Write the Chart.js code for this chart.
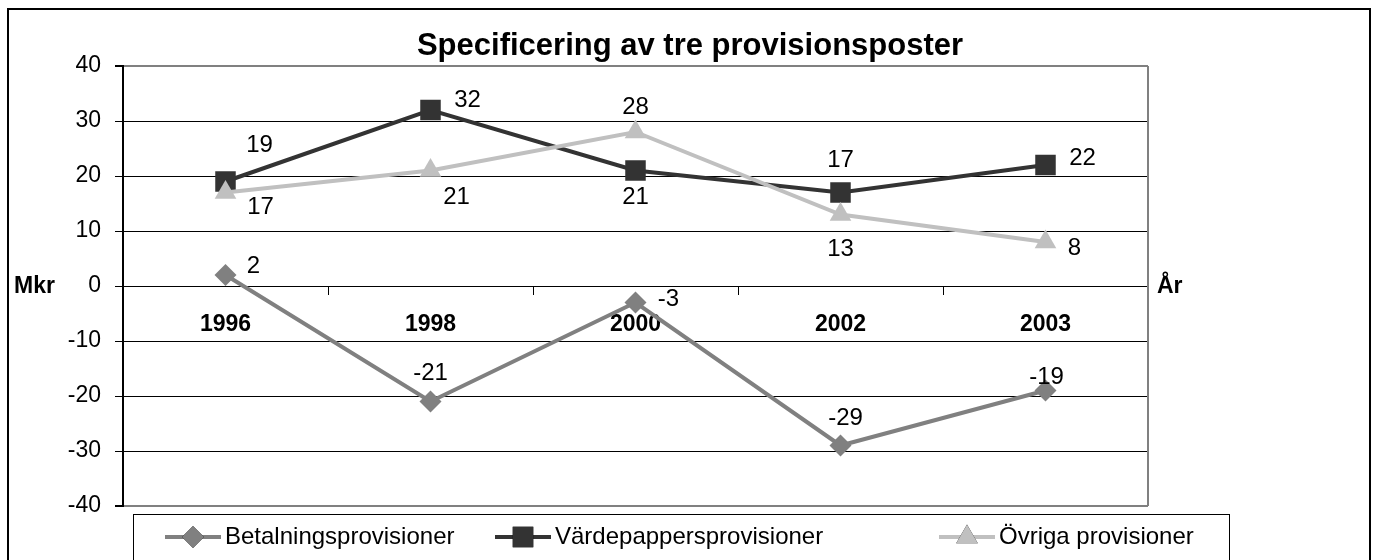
<!DOCTYPE html>
<html>
<head>
<meta charset="utf-8">
<script src="https://cdn.jsdelivr.net/npm/chart.js@4.4.1/dist/chart.umd.min.js"></script>
<style>
  html, body { margin: 0; padding: 0; background: #fff; }
  #wrap { width: 1380px; height: 560px; position: relative; }
</style>
</head>
<body>
<div id="wrap"><canvas id="chart" width="1380" height="560"></canvas></div>
<script>
// chart data
var years       = ['1996', '1998', '2000', '2002', '2003'];
var betalning   = [2, -21, -3, -29, -19];
var vardepapper = [19, 32, 21, 17, 22];
var ovriga      = [17, 21, 28, 13, 8];
var yTicks      = [-40, -30, -20, -10, 0, 10, 20, 30, 40];

var FONT = '"Liberation Sans", Arial, sans-serif';

// where each value label sits relative to its point (dx, dy in px)
var labelOffsets = [
    [[28, -9], [0, -28], [33, -3], [5, -27], [1, -13]],
    [[34, -36], [37, -10], [0, 27], [0, -32], [37, -7]],
    [[35, 15], [26, 27], [0, -25], [0, 35], [29, 6]]
];
var legendX = [165, 495, 939];

var extras = {
    id: 'extras',
    afterDatasetsDraw: function(chart) {
        var ctx  = chart.ctx;
        var area = chart.chartArea;
        ctx.save();
        // right border of the plot area
        ctx.strokeStyle = '#808080';
        ctx.lineWidth = 2;
        ctx.beginPath();
        ctx.moveTo(area.right, area.top);
        ctx.lineTo(area.right, area.bottom);
        ctx.stroke();

        // value labels
        ctx.fillStyle = '#000';
        ctx.font = '24px ' + FONT;
        ctx.textAlign = 'center';
        ctx.textBaseline = 'middle';
        chart.data.datasets.forEach(function(ds, i) {
            var meta = chart.getDatasetMeta(i);
            meta.data.forEach(function(pt, j) {
                var off = labelOffsets[i][j];
                ctx.fillText(String(ds.data[j]), pt.x + off[0], pt.y + off[1]);
            });
        });
        ctx.restore();
    },
    afterDraw: function(chart) {
        var ctx  = chart.ctx;
        var area = chart.chartArea;
        var zeroY = chart.scales.y.getPixelForValue(0);
        ctx.save();
        // outer frame
        ctx.strokeStyle = '#000';
        ctx.lineWidth = 2;
        ctx.strokeRect(8, 9, 1362, 620);

        // title
        ctx.fillStyle = '#000';
        ctx.font = 'bold 31px ' + FONT;
        ctx.textAlign = 'center';
        ctx.textBaseline = 'middle';
        ctx.fillText('Specificering av tre provisionsposter', 690, 46);

        // axis names
        ctx.font = 'bold 23px ' + FONT;
        ctx.textAlign = 'left';
        ctx.fillText('Mkr', 14, zeroY + 1);
        ctx.fillText('År', area.right + 9, zeroY + 1);

        // legend box
        ctx.strokeStyle = '#000';
        ctx.lineWidth = 1;
        ctx.strokeRect(133.5, 514.5, 1096, 60);
        var ly = 537;
        chart.data.datasets.forEach(function(ds, i) {
            var x0 = legendX[i];
            ctx.strokeStyle = ds.borderColor;
            ctx.lineWidth = 4;
            ctx.beginPath();
            ctx.moveTo(x0, ly);
            ctx.lineTo(x0 + 56, ly);
            ctx.stroke();
            Chart.helpers.drawPoint(ctx, {
                pointStyle: ds.pointStyle,
                radius: ds.pointRadius,
                borderWidth: 0
            }, x0 + 28, ly);
            ctx.fillStyle = ds.pointBackgroundColor;
            ctx.fill();
            ctx.fillStyle = '#000';
            ctx.font = '24px ' + FONT;
            ctx.textAlign = 'left';
            ctx.textBaseline = 'middle';
            ctx.fillText(ds.label, x0 + 60, ly);
        });
        ctx.restore();
    }
};

var ctx = document.getElementById('chart').getContext('2d');
var chart = new Chart(ctx, {
    type: 'line',
    data: {
        labels: years,
        datasets: [
            {
                label: 'Betalningsprovisioner',
                data: betalning,
                borderColor: '#808080',
                backgroundColor: '#808080',
                pointBackgroundColor: '#808080',
                pointBorderWidth: 0,
                borderWidth: 4,
                pointStyle: 'rectRot',
                pointRadius: 11,
                order: 2
            },
            {
                label: 'Värdepappersprovisioner',
                data: vardepapper,
                borderColor: '#333333',
                backgroundColor: '#333333',
                pointBackgroundColor: '#333333',
                pointBorderWidth: 0,
                borderWidth: 4,
                pointStyle: 'rect',
                pointRadius: 14.5,
                order: 1
            },
            {
                label: 'Övriga provisioner',
                data: ovriga,
                borderColor: '#c0c0c0',
                backgroundColor: '#c0c0c0',
                pointBackgroundColor: '#c0c0c0',
                pointBorderWidth: 0,
                borderWidth: 4,
                pointStyle: 'triangle',
                pointRadius: 12.5,
                order: 0
            }
        ]
    },
    options: {
        responsive: false,
        animation: false,
        layout: { padding: { left: 0, right: 232, top: 66, bottom: 54 } },
        plugins: {
            legend: { display: false },
            title: { display: false },
            tooltip: { enabled: false }
        },
        elements: { line: { tension: 0 } },
        scales: {
            x: {
                type: 'category',
                position: { y: 0 },
                offset: true,
                border: { display: true, color: '#000', width: 1 },
                grid: {
                    offset: true,
                    drawOnChartArea: false,
                    drawTicks: true,
                    tickLength: 8,
                    tickColor: '#000',
                    color: '#000'
                },
                ticks: {
                    color: '#000',
                    padding: 17,
                    font: { family: FONT, size: 23, weight: 'bold' }
                }
            },
            y: {
                min: -40,
                max: 40,
                afterFit: function(scale) { scale.width = 123; },
                afterBuildTicks: function(scale) {
                    scale.ticks = yTicks.map(function(v) { return { value: v }; });
                },
                border: { display: true, color: '#000', width: 2 },
                grid: {
                    color: function(c) {
                        var v = c.tick ? c.tick.value : 0;
                        return (v === 40 || v === -40) ? '#808080' : '#000';
                    },
                    lineWidth: function(c) {
                        var v = c.tick ? c.tick.value : 0;
                        return (v === 40 || v === -40) ? 2 : 1;
                    },
                    tickColor: '#000',
                    tickLength: 8
                },
                ticks: {
                    color: '#000',
                    padding: 14,
                    font: { family: FONT, size: 23 }
                }
            }
        }
    },
    plugins: [extras]
});
</script>
</body>
</html>
